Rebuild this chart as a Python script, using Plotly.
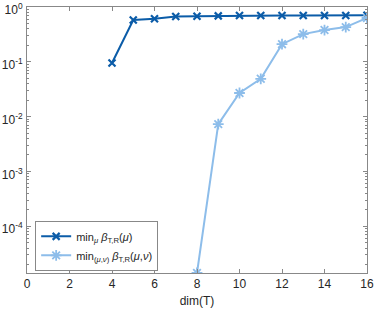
import plotly.graph_objects as go
import numpy as np

x1 = [4, 5, 6, 7, 8, 9, 10, 11, 12, 13, 14, 15, 16]
y1 = [0.095, 0.58, 0.61, 0.67, 0.68, 0.69, 0.70, 0.70, 0.70, 0.70, 0.70, 0.70, 0.71]
x2 = [8, 9, 10, 11, 12, 13, 14, 15, 16]
y2 = [1.4e-5, 0.0073, 0.027, 0.049, 0.21, 0.32, 0.38, 0.43, 0.63]
name1 = "min<sub><i>μ</i></sub> <i>β</i><sub>T,R</sub>(<i>μ</i>)"
name2 = "min<sub>(<i>μ</i>,<i>ν</i>)</sub> <i>β</i><sub>T,R</sub>(<i>μ</i>,<i>ν</i>)"
ytickvals = [1e-4, 1e-3, 1e-2, 1e-1, 1]
yticktext = ["10<sup>-4</sup>", "10<sup>-3</sup>", "10<sup>-2</sup>", "10<sup>-1</sup>", "10<sup>0</sup>"]
xtickvals = [0, 2, 4, 6, 8, 10, 12, 14, 16]

dark = "#0B5CA8"
light = "#8DBDEA"
axis_col = "#888888"
text_col = "#262626"

minor_vals = [m * 10.0 ** e for e in range(-5, 0) for m in range(2, 10)]

fig = go.Figure()
fig.add_trace(go.Scatter(x=x1, y=y1, mode="lines+markers", name=name1,
                         line=dict(color=dark, width=2),
                         marker=dict(symbol="x-thin-open", size=7, color=dark,
                                     line=dict(color=dark, width=2.2))))
fig.add_trace(go.Scatter(x=x2, y=y2, mode="lines+markers", name=name2,
                         line=dict(color=light, width=2),
                         marker=dict(symbol="asterisk-open", size=9, color=light,
                                     line=dict(color=light, width=1.8))))

axcommon = dict(showline=True, linecolor=axis_col, linewidth=1, mirror="ticks",
                ticks="inside", tickcolor=axis_col, ticklen=4, showgrid=False,
                zeroline=False, automargin=False, ticklabeloverflow="allow",
                tickfont=dict(size=12, color=text_col))
fig.update_xaxes(range=[0, 16], tickvals=xtickvals,
                 title=dict(text="dim(T)", font=dict(size=12, color=text_col), standoff=6), **axcommon)
fig.update_yaxes(type="log", range=[np.log10(1.4e-5), 0.0005], tickvals=ytickvals, ticktext=yticktext,
                 minor=dict(ticks="inside", ticklen=2, tickcolor=axis_col, showgrid=False,
                            tickvals=minor_vals),
                 ticklabelstandoff=1, ticklabelshift=3, **axcommon)
fig.update_layout(width=374, height=311, margin=dict(l=27, r=7, t=7, b=38),
                  plot_bgcolor="white", paper_bgcolor="white",
                  font=dict(family="Liberation Sans, Arial, sans-serif", size=11, color=text_col),
                  legend=dict(x=0.024, y=0.008, xanchor="left", yanchor="bottom",
                              bordercolor=axis_col, borderwidth=1, bgcolor="white",
                              font=dict(size=11), tracegroupgap=0, itemwidth=30),
                  showlegend=True)
fig.write_html("out.html", config={"displayModeBar": False},
               post_script="document.body.style.margin='0';")
